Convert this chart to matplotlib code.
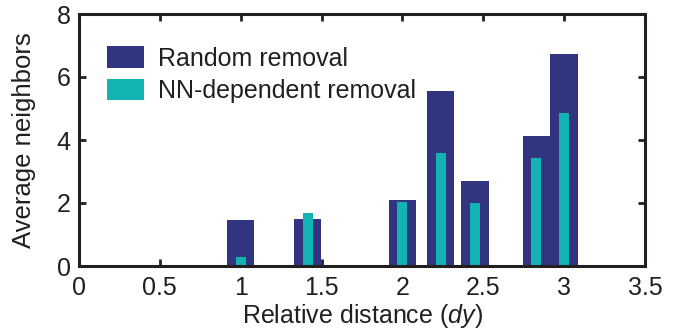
import numpy as np
import matplotlib
matplotlib.use("Agg")
import matplotlib.pyplot as plt

plt.rcParams['font.family'] = ['Liberation Sans', 'DejaVu Sans']
plt.rcParams['mathtext.fontset'] = 'custom'
plt.rcParams['mathtext.it'] = 'Liberation Sans:italic'
plt.rcParams['mathtext.rm'] = 'Liberation Sans'

# Data
distances = [1.0, 1.414, 2.0, 2.236, 2.449, 2.828, 3.0]
random_removal = [1.46, 1.48, 2.10, 5.55, 2.69, 4.14, 6.73]
nn_removal = [0.27, 1.68, 2.03, 3.59, 2.00, 3.43, 4.86]
xticks = [0, 0.5, 1, 1.5, 2, 2.5, 3, 3.5]
xticklabels = ['0', '0.5', '1', '1.5', '2', '2.5', '3', '3.5']
yticks = [0, 2, 4, 6, 8]

navy = '#31347F'
teal = '#12B3B1'
fs_tick = 18
fs_xlab = 18
fs_ylab = 18.5
fs_leg = 18

fig = plt.figure(figsize=(6.77, 3.33), dpi=100)
ax = fig.add_axes([79/677, 1 - 266/333, (645-79)/677, (266-14)/333])

ax.bar(distances, random_removal, width=0.17, color=navy, label='Random removal', zorder=2)
ax.bar(distances, nn_removal, width=0.0625, color=teal, label='NN-dependent removal', zorder=3)

ax.set_xlim(0, 3.5)
ax.set_ylim(0, 8)
ax.set_xticks(xticks)
ax.set_xticklabels(xticklabels)
ax.set_yticks(yticks)
ax.tick_params(direction='in', length=5, width=2, labelsize=fs_tick, top=True, right=True, colors='#231f20')
ax.tick_params(axis='x', pad=7.5)
ax.tick_params(axis='y', pad=6)
for s in ax.spines.values():
    s.set_linewidth(2.2)
    s.set_color('#231f20')
    s.set_zorder(5)

ax.set_xlabel('Relative distance ($\\it{dy}$)', fontsize=fs_xlab, color='#231f20', labelpad=1.5)
ax.set_ylabel('Average neighbors', fontsize=fs_ylab, color='#231f20', labelpad=15)

leg = ax.legend(loc='upper left', bbox_to_anchor=((107-79)/566, 1 - (46-14)/252),
                frameon=False, fontsize=fs_leg, handlelength=1.48, handleheight=0.97,
                handletextpad=0.56, labelspacing=0.32, borderpad=0, borderaxespad=0)
for t in leg.get_texts():
    t.set_color('#231f20')

fig.savefig('out.png', dpi=100)
